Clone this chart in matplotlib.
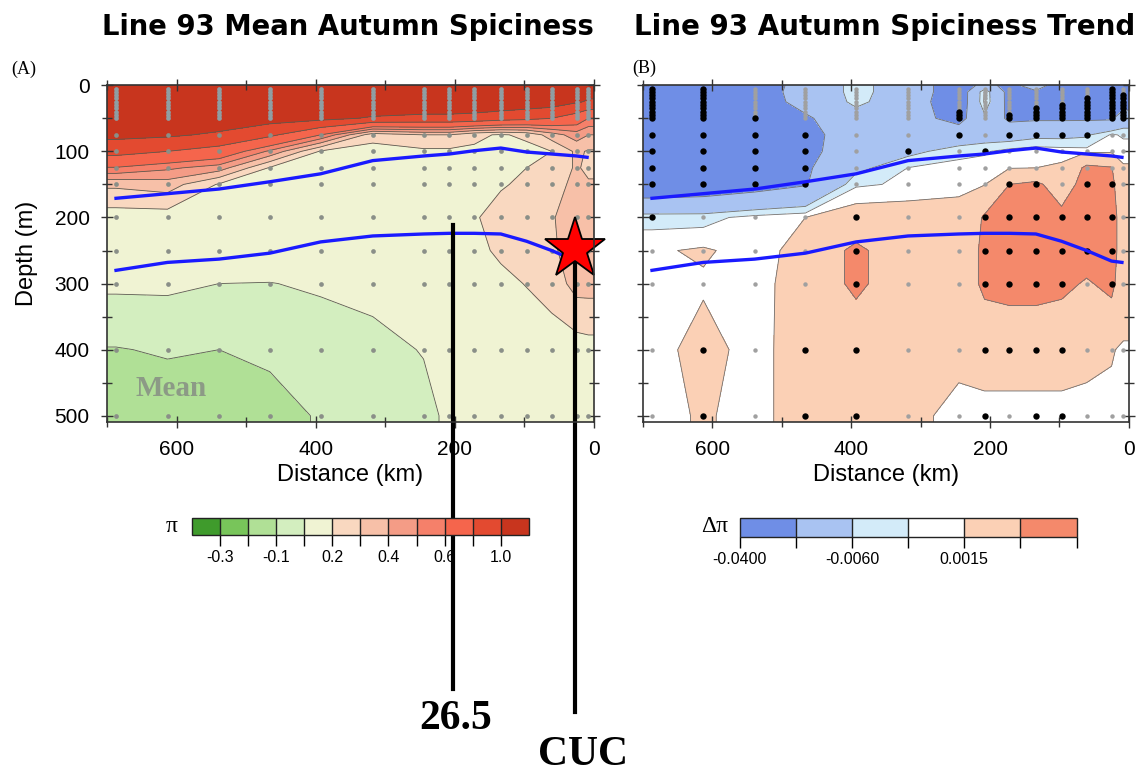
import numpy as np
import matplotlib.pyplot as plt
from matplotlib import transforms
from matplotlib.ticker import MultipleLocator

# CalCOFI line 93 stations (km offshore) and grid depths (m)
station_km = [687, 613, 539, 466, 393, 318, 245, 208, 172, 134, 97, 61, 25, 8]
grid_depth = [0, 10, 25, 50, 75, 100, 125, 150, 200, 250, 300, 400, 500]

# mean autumn spiciness, one row per grid depth
spice_mean = [
    [1.2, 1.2, 1.2, 1.2, 1.2, 1.2, 1.2, 1.2, 1.2, 1.2, 1.2, 1.2, 1.15, 1.1],
    [1.2, 1.2, 1.2, 1.2, 1.2, 1.2, 1.2, 1.2, 1.2, 1.2, 1.2, 1.15, 1.1, 1.05],
    [1.2, 1.2, 1.2, 1.18, 1.15, 1.15, 1.15, 1.15, 1.15, 1.15, 1.12, 1.1, 1.02, 0.98],
    [1.15, 1.15, 1.12, 1.08, 1.05, 0.98, 0.95, 0.95, 0.93, 0.88, 0.85, 0.8, 0.7, 0.6],
    [1.05, 1.03, 0.97, 0.84, 0.6, 0.24, 0.3, 0.3, 0.22, 0.19, 0.22, 0.35, 0.45, 0.4],
    [0.87, 0.8, 0.72, 0.48, 0.19, 0.16, 0.18, 0.18, 0.185, 0.18, 0.17, 0.2, 0.32, 0.29],
    [0.59, 0.52, 0.45, 0.19, 0.17, 0.16, 0.17, 0.17, 0.185, 0.18, 0.2, 0.25, 0.31, 0.28],
    [0.32, 0.35, 0.19, 0.15, 0.15, 0.14, 0.16, 0.17, 0.185, 0.19, 0.22, 0.27, 0.32, 0.31],
    [0.15, 0.15, 0.12, 0.1, 0.11, 0.1, 0.12, 0.15, 0.19, 0.24, 0.26, 0.29, 0.36, 0.36],
    [0.1, 0.08, 0.06, 0.05, 0.06, 0.06, 0.08, 0.12, 0.17, 0.22, 0.25, 0.28, 0.36, 0.36],
    [0.02, 0.02, 0.0, -0.002, 0.01, 0.03, 0.05, 0.08, 0.13, 0.17, 0.205, 0.24, 0.34, 0.34],
    [-0.105, -0.09, -0.1, -0.08, -0.04, -0.03, 0.005, 0.05, 0.08, 0.1, 0.12, 0.15, 0.15, 0.16],
    [-0.15, -0.16, -0.15, -0.14, -0.09, -0.06, -0.03, 0.02, 0.05, 0.06, 0.08, 0.1, 0.12, 0.12],
]

# autumn spiciness trend (x 1e-3)
spice_trend = [
    [-35, -35, -32, -12, -4, -10, -30, -15, -25, -12, -30, -30, -30, -30],
    [-35, -35, -30, -12, -4, -10, -30, -1, -25, -22, -30, -30, -30, -30],
    [-35, -35, -28, -15, -4, -12, -30, -0.5, -25, -25, -30, -30, -30, -28],
    [-35, -35, -30, -22, -10, -14, -25, -8, -23, -22, -22, -22, -22, -12],
    [-35, -35, -32, -25, -12, -12, -12, -10, -10, -8, -8, -7, -1, -2],
    [-32, -32, -30, -24, -12, -8, -3, -2, 0, 1, 0.5, 0, 0, 0],
    [-30, -30, -28, -22, -8, -1.4, 0, 0, 1, 1.5, 2, 24, 21, 2],
    [-32, -30, -26, -21, -2, -1, 0, 1, 20, 24, 10, 28, 25, 5],
    [-3, -3, 0, 1.5, 4, 4, 4, 22, 30, 30, 25, 30, 30, 8],
    [1, 2, 0, 3, 25, 4, 4, 25, 30, 30, 30, 30, 30, 8],
    [0, 1, 0.5, 3, 25, 4, 4, 25, 28, 28, 25, 18, 25, 8],
    [0, 3, 0, 4, 4, 4, 3, 4, 4, 4, 4, 3, 2, 0.5],
    [0, 2, 0, 4, 4, 3, 0, 0, 0, 0, 0, 0, 0, 0],
]

# bottle samples: dense stack near the surface plus deeper standard depths
surface_depths = [5, 10, 15, 20, 25, 30, 35, 40, 45, 50]
deep_depths = [75, 100, 125, 150, 200, 250, 300, 400, 500]
# depth where the significant (black) part of the surface stack starts, 0 = none
sig_surface_top = [5, 5, 50, 0, 0, 0, 40, 0, 45, 35, 30, 20, 5, 15]
# significant trend at the deeper samples, one row per deep depth
sig_deep = [
    [1, 1, 1, 1, 0, 0, 1, 0, 1, 1, 1, 1, 0, 0],
    [1, 1, 1, 1, 0, 1, 0, 1, 0, 0, 0, 0, 0, 0],
    [1, 1, 1, 1, 0, 0, 0, 0, 0, 0, 0, 0, 0, 0],
    [1, 1, 1, 1, 0, 0, 0, 0, 1, 1, 0, 1, 1, 0],
    [1, 0, 0, 0, 1, 0, 0, 1, 1, 1, 1, 1, 1, 0],
    [0, 0, 0, 0, 1, 0, 0, 1, 1, 1, 1, 1, 1, 0],
    [0, 0, 0, 0, 1, 0, 0, 1, 1, 1, 1, 0, 1, 0],
    [0, 1, 0, 1, 1, 0, 0, 1, 1, 1, 1, 0, 0, 0],
    [0, 1, 0, 1, 1, 0, 0, 1, 0, 1, 1, 0, 0, 0],
]

# isopycnals (upper one and 26.5)
iso_km = [687, 613, 539, 466, 393, 318, 245, 208, 172, 134, 97, 61, 25, 10]
iso_upper = [171, 164, 157, 146, 134, 114, 107, 104, 99, 95, 101, 104, 107, 109]
iso_lower = [280, 268, 263, 254, 237, 228, 225, 224, 224, 225, 236, 250, 266, 268]

mean_levels = [-0.4, -0.3, -0.2, -0.1, 0.0, 0.2, 0.3, 0.4, 0.5, 0.6, 0.8, 1.0, 1.3]
mean_colors = ['#3f9b2c', '#78c55a', '#b0e096', '#d3eebf', '#f0f3d3', '#f9d8c0',
               '#f7c0a8', '#f49c86', '#f5806a', '#f5654c', '#e34a30', '#c8351e']
mean_ticks = [-0.3, -0.1, 0.2, 0.4, 0.6, 1.0]

trend_levels = [-0.04, -0.02, -0.006, -0.0015, 0.0015, 0.02, 0.04]
trend_colors = ['#6f8ee6', '#a9c3f2', '#d3ebf9', '#ffffff', '#fbd0b5', '#f4896b']
trend_ticks = [-0.04, -0.006, 0.0015]
trend_ticklabels = ['-0.0400', '-0.0060', '0.0015']

star_km, star_depth = 27, 247
line_265_km, line_265_depth = 203, 212

plt.rcParams['font.family'] = ['Liberation Sans', 'DejaVu Sans']
plt.rcParams['contour.negative_linestyle'] = 'solid'


def padded(field, scale=1.0):
    z = np.array(field, dtype=float) * scale
    z = np.hstack([z[:, :1], z, z[:, -1:]])
    return np.vstack([z, z[-1:]])


xg = np.array([700] + station_km + [0])
yg = np.array(grid_depth + [510])

fig = plt.figure(figsize=(11.38, 7.75), dpi=100)
axA = fig.add_axes([0.094, 0.455, 0.428, 0.435])
axB = fig.add_axes([0.565, 0.455, 0.427, 0.435])

csA = axA.contourf(xg, yg, padded(spice_mean), levels=mean_levels, colors=mean_colors)
axA.contour(xg, yg, padded(spice_mean), levels=mean_levels[1:-1], colors='#5a5a50',
            linewidths=0.6, linestyles='solid')
csB = axB.contourf(xg, yg, padded(spice_trend, 1e-3), levels=trend_levels, colors=trend_colors)
axB.contour(xg, yg, padded(spice_trend, 1e-3), levels=trend_levels[1:-1], colors='#707070',
            linewidths=0.6, linestyles='solid')

# sample dots
for i, km in enumerate(station_km):
    axA.plot([km] * len(surface_depths), surface_depths, 'o', ms=3.4, color='#8f9ea3', mec='none')
    axA.plot([km] * len(deep_depths), deep_depths, 'o', ms=3.4, color='#8a8f88', mec='none')
    for d in surface_depths:
        black = sig_surface_top[i] > 0 and d >= sig_surface_top[i]
        axB.plot(km, d, 'o', ms=4.6 if black else 3.2, mec='none',
                 color='black' if black else '#a0a0a0')
    for j, d in enumerate(deep_depths):
        black = sig_deep[j][i] == 1
        axB.plot(km, d, 'o', ms=4.6 if black else 3.2, mec='none',
                 color='black' if black else '#a0a0a0')

for ax in (axA, axB):
    ax.plot(iso_km, iso_upper, color='#1a1aff', lw=2.4)
    ax.plot(iso_km, iso_lower, color='#1a1aff', lw=2.4)
    ax.set_xlim(700, 0)
    ax.set_ylim(510, 0)
    ax.xaxis.set_major_locator(MultipleLocator(200))
    ax.xaxis.set_minor_locator(MultipleLocator(100))
    ax.yaxis.set_major_locator(MultipleLocator(100))
    ax.yaxis.set_minor_locator(MultipleLocator(50))
    ax.tick_params(which='both', direction='inout', top=True, right=True,
                   color='#333333', width=1, labelsize=15, pad=8)
    ax.tick_params(which='major', length=9)
    ax.tick_params(which='minor', length=7)
    for s in ax.spines.values():
        s.set_color('#333333')
        s.set_linewidth(1.2)
    ax.set_xlabel('Distance (km)', fontsize=17, labelpad=4)

axA.set_ylabel('Depth (m)', fontsize=17, labelpad=12)
axB.tick_params(labelleft=False)

axA.text(608, 459, 'Mean', fontsize=21, fontweight='bold', color='#8c9a86',
         family='Liberation Serif', ha='center', va='center')

# annotations: 26.5 isopycnal and CUC core
blend = transforms.blended_transform_factory(axA.transData, fig.transFigure)
y265 = fig.transFigure.inverted().transform(axA.transData.transform((line_265_km, line_265_depth)))[1]
ystar = fig.transFigure.inverted().transform(axA.transData.transform((star_km, star_depth)))[1]
axA.plot([line_265_km, line_265_km], [y265, 0.111], transform=blend, color='black', lw=3, clip_on=False)
axA.plot([star_km, star_km], [ystar, 0.081], transform=blend, color='black', lw=3, clip_on=False)
axA.plot(star_km, star_depth, marker='*', ms=46, color='red', mec='black', mew=1.3, clip_on=False)
axA.text(line_265_km - 4, 0.072, '26.5', transform=blend, fontsize=30, fontweight='bold',
         family='Liberation Serif', ha='center', va='center')
axA.text(star_km - 11, 0.026, 'CUC', transform=blend, fontsize=30, fontweight='bold',
         family='Liberation Serif', ha='center', va='center')

# titles and panel letters
fig.text(0.306, 0.965, 'Line 93 Mean Autumn Spiciness', fontsize=19.8, fontweight='bold',
         family='DejaVu Sans', ha='center', va='center')
fig.text(0.777, 0.965, 'Line 93 Autumn Spiciness Trend', fontsize=20, fontweight='bold',
         family='DejaVu Sans', ha='center', va='center')
fig.text(0.010, 0.910, '(A)', fontsize=13, family='Liberation Serif', ha='left', va='center')
fig.text(0.556, 0.912, '(B)', fontsize=13, family='Liberation Serif', ha='left', va='center')

# colorbars
caxA = fig.add_axes([0.1687, 0.3097, 0.296, 0.022])
cbA = fig.colorbar(csA, cax=caxA, orientation='horizontal', drawedges=True)
cbA.set_ticks(mean_levels[1:-1])
cbA.set_ticklabels([('%.1f' % v) if v in mean_ticks else '' for v in mean_levels[1:-1]])
caxB = fig.add_axes([0.650, 0.3075, 0.296, 0.024])
cbB = fig.colorbar(csB, cax=caxB, orientation='horizontal', drawedges=True)
cbB.set_ticks(trend_levels)
cbB.set_ticklabels([trend_ticklabels[trend_ticks.index(v)] if v in trend_ticks else '' for v in trend_levels])
for cb in (cbA, cbB):
    cb.outline.set_edgecolor('#222222')
    cb.outline.set_linewidth(1)
    cb.dividers.set_color('#222222')
    cb.dividers.set_linewidth(1)
    cb.ax.tick_params(direction='out', length=8, width=1, labelsize=11.5, pad=3)
fig.text(0.151, 0.320, 'π', fontsize=17, family='Liberation Serif', ha='center', va='center')
fig.text(0.628, 0.320, 'Δπ', fontsize=17, family='Liberation Serif', ha='center', va='center')

fig.savefig('out.png', dpi=100)
